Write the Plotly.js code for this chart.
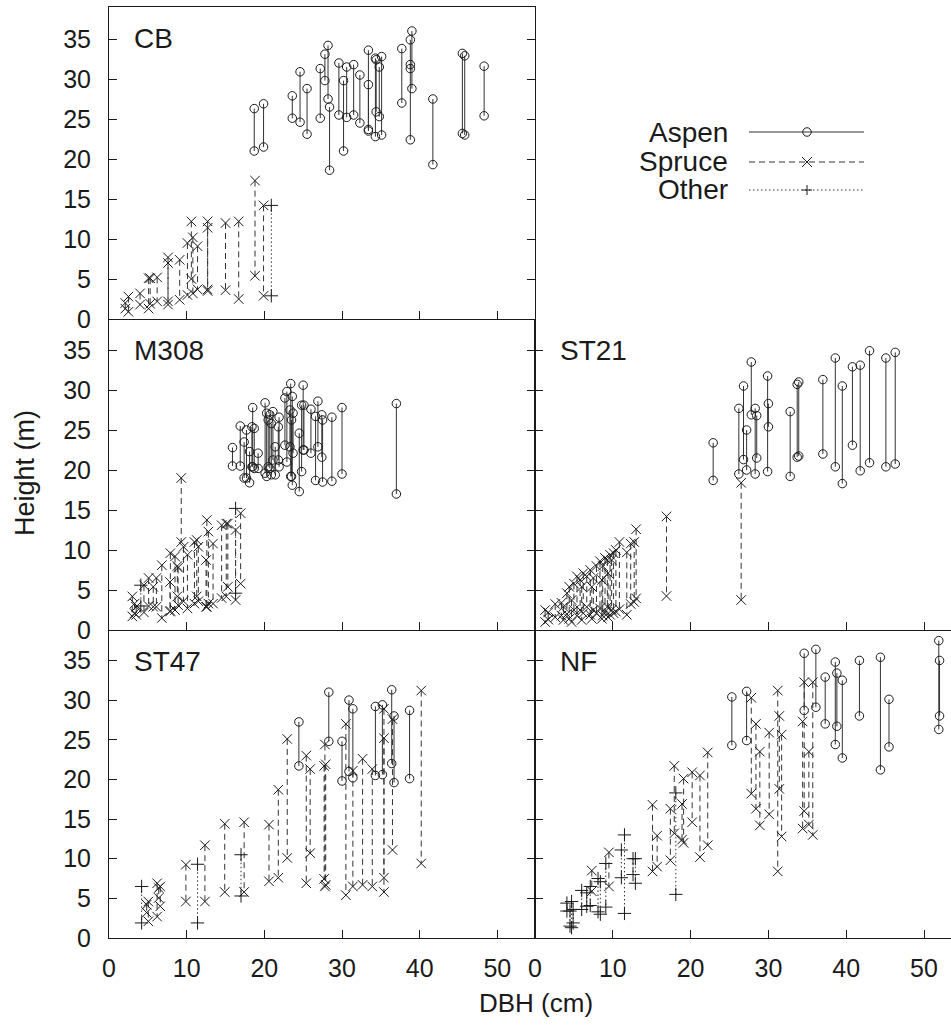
<!DOCTYPE html>
<html><head><meta charset="utf-8">
<script src="https://cdn.plot.ly/plotly-3.0.1.min.js"></script>
<style>html,body{margin:0;padding:0;background:#fff}</style>
</head><body><div id="chart" style="width:951px;height:1027px"></div>
<script>
// Each row: [DBH (cm), height A (m), height B (m)] — one vertical segment per tree
const CB_ASPEN = [[18.7,26.3,21.0],[19.9,26.9,21.5],[23.6,27.9,25.1],[24.6,30.9,24.6],[25.5,28.8,23.1],[27.2,31.3,25.1],[27.8,33.1,29.8],[28.2,34.2,27.5],[28.4,26.5,18.6],[29.6,32.0,25.5],[30.2,29.8,21.0],[30.6,31.5,25.2],[31.5,31.8,25.5],[32.3,30.5,24.5],[33.4,33.6,23.5],[33.4,29.3,23.7],[34.3,32.6,22.8],[34.4,32.4,25.9],[34.8,31.5,25.3],[35.1,32.8,23.0],[37.7,33.8,27.0],[38.8,34.9,22.4],[38.8,31.8,31.3],[39.0,36.0,28.8],[41.7,27.5,19.3],[45.5,33.2,23.2],[45.8,32.9,23.0],[48.3,31.6,25.4]];
const CB_SPRUCE = [[2.1,2.0,1.3],[2.5,2.8,0.9],[4.0,3.2,1.8],[5.1,5.1,1.3],[5.3,5.1,1.9],[6.2,5.2,2.2],[7.6,7.7,1.8],[7.6,7.0,2.2],[9.1,7.4,2.4],[10.1,9.5,3.0],[10.6,12.2,5.0],[10.8,10.2,3.2],[11.4,9.1,3.7],[12.7,12.2,3.5],[12.7,11.4,3.7],[15.0,12.0,3.6],[16.7,12.2,2.5],[18.8,17.3,5.4],[19.9,14.2,2.9]];
const CB_OTHER = [[20.9,14.2,2.9]];

const M308_ASPEN = [[15.9,22.8,20.5],[16.9,25.5,20.5],[17.4,23.5,19.0],[17.7,25.0,19.0],[18.1,22.3,18.4],[18.4,25.4,20.4],[18.5,27.8,20.4],[18.7,25.2,20.2],[19.2,22.1,20.2],[20.1,28.4,19.6],[20.3,27.1,19.2],[20.5,26.25,20.4],[20.7,26.9,20.2],[20.9,25.8,19.4],[21.1,27.3,21.25],[21.4,22.9,19.4],[21.8,25.4,21.25],[21.9,26.6,20.4],[22.65,29.0,23.1],[22.9,29.8,21.0],[23.3,27.5,22.9],[23.4,30.8,19.2],[23.5,26.25,19.2],[23.6,29.2,18.1],[23.7,27.1,22.1],[24.5,24.6,17.3],[24.8,28.1,19.8],[25.0,30.6,22.5],[25.1,28.1,22.5],[26.0,27.6,22.1],[26.6,26.7,18.7],[26.9,28.6,22.9],[27.4,26.9,21.6],[27.5,26.25,18.5],[28.7,26.6,18.6],[30.0,27.8,19.5],[37.0,28.3,17.0]];
const M308_SPRUCE = [[3.0,4.2,1.7],[3.3,3.3,2.1],[3.5,2.9,1.9],[4.5,5.6,2.2],[5.1,6.5,3.0],[5.7,5.4,2.9],[6.1,6.5,2.9],[6.8,8.1,1.5],[7.85,6.0,2.3],[7.9,9.6,2.4],[8.5,9.2,2.5],[8.8,8.0,4.2],[8.9,7.8,3.1],[9.3,19.0,11.0],[9.6,10.4,3.6],[10.1,9.4,2.7],[11.0,11.0,3.3],[11.3,11.25,4.2],[11.5,10.4,3.6],[12.5,8.75,2.9],[12.6,13.75,2.9],[12.8,12.3,3.3],[13.4,10.8,3.3],[14.5,13.1,4.0],[15.1,13.3,4.2],[15.3,13.3,5.4],[16.3,12.5,3.75],[16.95,14.6,5.8]];
const M308_OTHER = [[4.1,5.6,3.0],[16.3,15.2,4.6]];

const ST21_ASPEN = [[22.9,23.4,18.7],[26.2,27.7,19.5],[26.8,30.5,21.3],[27.2,25.0,20.0],[27.8,33.5,26.9],[28.3,27.7,19.5],[28.5,26.8,21.5],[29.9,31.75,19.8],[30.0,28.3,25.4],[32.8,27.3,19.2],[33.7,30.7,21.6],[33.9,31.0,21.75],[37.0,31.3,22.0],[38.6,34.0,20.4],[39.5,30.5,18.3],[40.8,32.9,23.1],[41.8,33.1,19.9],[43.0,34.9,20.9],[45.1,34.0,20.4],[46.3,34.7,20.75]];
const ST21_SPRUCE = [[1.3,2.5,1.0],[1.7,2.2,1.3],[2.6,3.25,1.6],[3.4,3.4,1.8],[3.65,2.9,1.25],[4.1,4.6,2.0],[4.4,5.4,1.4],[4.7,3.75,1.0],[5.0,5.8,2.5],[5.4,6.7,1.8],[5.8,6.25,2.5],[6.0,5.4,1.25],[6.2,7.1,2.1],[6.65,6.7,2.9],[7.1,7.5,1.9],[7.3,5.4,1.4],[7.5,6.5,2.5],[7.9,8.0,2.1],[8.35,8.6,2.7],[8.6,6.25,1.4],[8.7,8.0,1.8],[9.0,9.0,2.3],[9.3,8.75,2.9],[9.4,7.1,1.6],[9.65,9.4,1.9],[9.85,8.75,2.5],[10.1,9.6,2.1],[10.4,10.0,2.3],[10.85,11.0,2.6],[11.8,9.7,1.9],[12.3,10.8,3.25],[12.75,11.0,3.5],[13.0,12.6,3.95],[16.9,14.2,4.25],[26.5,18.4,3.75]];

const ST47_ASPEN = [[24.45,27.25,21.7],[28.3,31.0,24.8],[30.0,24.8,19.8],[30.9,30.0,21.0],[31.4,28.9,20.2],[34.3,29.2,20.5],[35.2,29.4,20.6],[36.4,31.3,22.0],[36.7,28.0,19.6],[38.7,28.7,20.1]];
const ST47_SPRUCE = [[4.85,4.2,3.2],[5.06,4.6,2.1],[6.2,6.9,2.7],[6.4,6.3,5.05],[6.6,6.5,4.0],[9.9,9.25,4.6],[12.35,11.7,4.6],[14.9,14.4,5.8],[17.4,14.6,5.8],[20.6,14.3,7.15],[21.8,18.7,7.6],[22.95,25.1,10.1],[25.4,23.0,6.9],[25.9,21.3,10.7],[27.7,21.7,7.45],[27.8,24.4,6.5],[27.9,21.9,6.7],[30.5,27.0,5.4],[31.4,21.1,6.5],[32.65,22.6,6.7],[33.9,21.3,6.5],[35.4,28.9,5.8],[35.4,25.2,7.6],[36.5,27.6,11.1],[40.2,31.2,9.4]];
const ST47_OTHER = [[4.2,6.5,1.9],[11.4,9.3,1.9],[17.0,10.5,5.3]];

const NF_ASPEN = [[25.3,30.4,24.3],[27.2,31.1,24.9],[34.6,35.9,28.7],[36.1,36.4,29.1],[37.3,32.9,27.0],[38.6,34.8,24.4],[38.8,33.4,26.7],[39.5,32.5,22.7],[41.7,35.0,28.0],[44.4,35.4,21.2],[45.5,30.1,24.1],[51.9,37.5,26.3],[52.0,35.0,28.0]];
const NF_SPRUCE = [[7.3,8.5,5.9],[9.5,10.8,6.5],[15.1,16.8,8.4],[15.7,12.9,9.0],[17.4,16.3,9.8],[17.9,21.7,13.2],[18.9,16.9,12.4],[19.1,20.1,12.0],[20.2,20.9,14.6],[21.2,20.5,10.2],[22.2,23.4,11.7],[27.8,30.3,18.2],[28.4,27.0,16.3],[28.9,23.5,14.2],[30.1,25.9,15.6],[31.2,31.2,8.4],[31.4,28.0,18.8],[31.7,25.65,12.8],[34.4,27.3,13.8],[34.6,32.25,16.0],[35.2,23.5,14.3],[35.7,32.25,13.0]];
const NF_OTHER = [[4.1,4.4,3.4],[4.5,3.4,1.5],[4.7,4.6,1.3],[4.9,3.6,1.9],[6.0,6.0,3.6],[6.65,5.7,4.0],[7.1,6.5,4.1],[8.1,7.5,3.3],[8.4,7.1,3.0],[9.1,9.4,3.9],[11.1,11.1,7.6],[11.5,13.0,3.1],[12.6,10.0,8.0],[12.9,10.0,6.9],[18.1,18.3,5.5]];

const Y_TICKS = [0,5,10,15,20,25,30,35];
const X_TICKS = [0,10,20,30,40,50];
const LEGEND_NAMES = ['Aspen','Spruce','Other'];

// ---------- layout geometry (pixels) ----------
const W=951, H=1027, L=109, R=0, T=7, B=89;
const PW=W-L-R, PH=H-T-B;
const fx = p => (p-L)/PW;
const fy = p => (H-B-p)/PH;
const COLS = [[109,535],[535,951]];
const ROWS = [[7,319],[319,630],[630,938]];
const YR = [[0,39],[0,38.875],[0,38.84]];
const XR = [[0,54.85],[0,53.47]];

const FONT = 'Liberation Sans, Arial, Helvetica, sans-serif';
const INK = '#1a1a1a';

const panels = [
  {id:1, col:0, row:0, label:'CB',   sets:[CB_ASPEN, CB_SPRUCE, CB_OTHER]},
  {id:2, col:1, row:0, label:null,   sets:[]},
  {id:3, col:0, row:1, label:'M308', sets:[M308_ASPEN, M308_SPRUCE, M308_OTHER]},
  {id:4, col:1, row:1, label:'ST21', sets:[ST21_ASPEN, ST21_SPRUCE, []]},
  {id:5, col:0, row:2, label:'ST47', sets:[ST47_ASPEN, ST47_SPRUCE, ST47_OTHER]},
  {id:6, col:1, row:2, label:'NF',   sets:[NF_ASPEN, NF_SPRUCE, NF_OTHER]}
];

const STYLES = [
  {dash:'solid',       symbol:'circle-open',     size:8.5},
  {dash:'6px,4px',     symbol:'x-thin-open',     size:9.5},
  {dash:'1.5px,2.5px', symbol:'cross-thin-open', size:9.5}
];

function segs(rows){
  const x=[], y=[];
  rows.forEach(r=>{ x.push(r[0], r[0], null); y.push(r[1], r[2], null); });
  return {x, y};
}

const traces = [];
const layout = {
  width:W, height:H, margin:{l:L, r:R, t:T, b:B, pad:0},
  paper_bgcolor:'#fff', plot_bgcolor:'#fff', showlegend:false,
  font:{family:FONT, color:INK},
  annotations:[], shapes:[]
};

panels.forEach(p=>{
  const sx = p.id===1 ? '' : String(p.id);
  const xa = 'x'+sx, ya = 'y'+sx;
  const c = COLS[p.col], r = ROWS[p.row];
  const bottomRow = p.row===2, leftCol = p.col===0, legendPanel = p.id===2;
  layout['xaxis'+sx] = {
    domain:[fx(c[0]), fx(c[1])], range:XR[p.col], anchor:ya,
    showline:true, mirror: p.row===0, linecolor:INK, linewidth:1,
    ticks: legendPanel ? '' : 'inside', ticklen:8, tickwidth:1, tickcolor:INK,
    tickvals: X_TICKS, showticklabels: bottomRow, ticklabelstandoff:8,
    tickfont:{family:FONT, size:25, color:INK},
    showgrid:false, zeroline:false, fixedrange:true
  };
  layout['yaxis'+sx] = {
    domain:[fy(r[1]), fy(r[0])], range:YR[p.row], anchor:xa,
    showline:true, mirror: leftCol ? 'ticks' : false, linecolor:INK, linewidth:1,
    ticks: legendPanel ? '' : 'inside', ticklen:8, tickwidth:1, tickcolor:INK,
    tickvals: Y_TICKS, showticklabels: leftCol, ticklabelstandoff:12,
    tickfont:{family:FONT, size:25, color:INK},
    showgrid:false, zeroline:false, fixedrange:true
  };
  p.sets.forEach((rows,i)=>{
    if(!rows.length) return;
    const s = segs(rows), st = STYLES[i];
    traces.push({
      type:'scatter', mode:'lines+markers', x:s.x, y:s.y, xaxis:xa, yaxis:ya,
      name:LEGEND_NAMES[i], connectgaps:false, hoverinfo:'skip', cliponaxis:false,
      line:{color:'#333', width:1, dash:st.dash},
      marker:{symbol:st.symbol, size:st.size, color:INK, line:{width:1, color:INK}}
    });
  });
  if(p.label){
    layout.annotations.push({
      text:p.label, xref:xa+' domain', yref:ya+' domain',
      x:23/(c[1]-c[0]), y:1-31/(r[1]-r[0]), xanchor:'left', yanchor:'middle',
      showarrow:false, font:{family:FONT, size:28, color:INK}
    });
  }
});

// ---------- manual legend in the empty top-right panel ----------
const legRows = [132, 162, 190];
const lgX0 = 749, lgX1 = 864, lgM = 807, lgTextR = 730;
LEGEND_NAMES.forEach((nm,i)=>{
  const y = fy(legRows[i]);
  layout.annotations.push({
    text:nm, xref:'paper', yref:'paper', x:fx(lgTextR), y:y,
    xanchor:'right', yanchor:'middle', showarrow:false,
    font:{family:FONT, size:28, color:INK}
  });
  layout.shapes.push({type:'line', xref:'paper', yref:'paper',
    x0:fx(lgX0), x1:fx(lgX1), y0:y, y1:y,
    line:{color:'#333', width:1, dash:STYLES[i].dash}});
  const mx = fx(lgM);
  if(i===0){
    layout.shapes.push({type:'circle', xref:'paper', yref:'paper', xsizemode:'pixel', ysizemode:'pixel',
      xanchor:mx, yanchor:y, x0:-4.25, x1:4.25, y0:-4.25, y1:4.25,
      line:{color:INK, width:1}, fillcolor:'rgba(0,0,0,0)'});
  } else if(i===1){
    [[-5,-5,5,5],[-5,5,5,-5]].forEach(d=>layout.shapes.push({type:'line', xref:'paper', yref:'paper',
      xsizemode:'pixel', ysizemode:'pixel', xanchor:mx, yanchor:y, x0:d[0], y0:d[1], x1:d[2], y1:d[3],
      line:{color:INK, width:1}}));
  } else {
    [[-5,0,5,0],[0,-5,0,5]].forEach(d=>layout.shapes.push({type:'line', xref:'paper', yref:'paper',
      xsizemode:'pixel', ysizemode:'pixel', xanchor:mx, yanchor:y, x0:d[0], y0:d[1], x1:d[2], y1:d[3],
      line:{color:INK, width:1}}));
  }
});

// ---------- axis titles ----------
layout.annotations.push({
  text:'DBH (cm)', xref:'paper', yref:'paper', x:fx(536), y:fy(1003),
  xanchor:'center', yanchor:'middle', showarrow:false, font:{family:FONT, size:26, color:INK}
});
layout.annotations.push({
  text:'Height (m)', xref:'paper', yref:'paper', x:fx(25), y:fy(473), textangle:-90,
  xanchor:'center', yanchor:'middle', showarrow:false, font:{family:FONT, size:27, color:INK}
});

Plotly.newPlot('chart', traces, layout, {staticPlot:true, displayModeBar:false});
</script></body></html>
